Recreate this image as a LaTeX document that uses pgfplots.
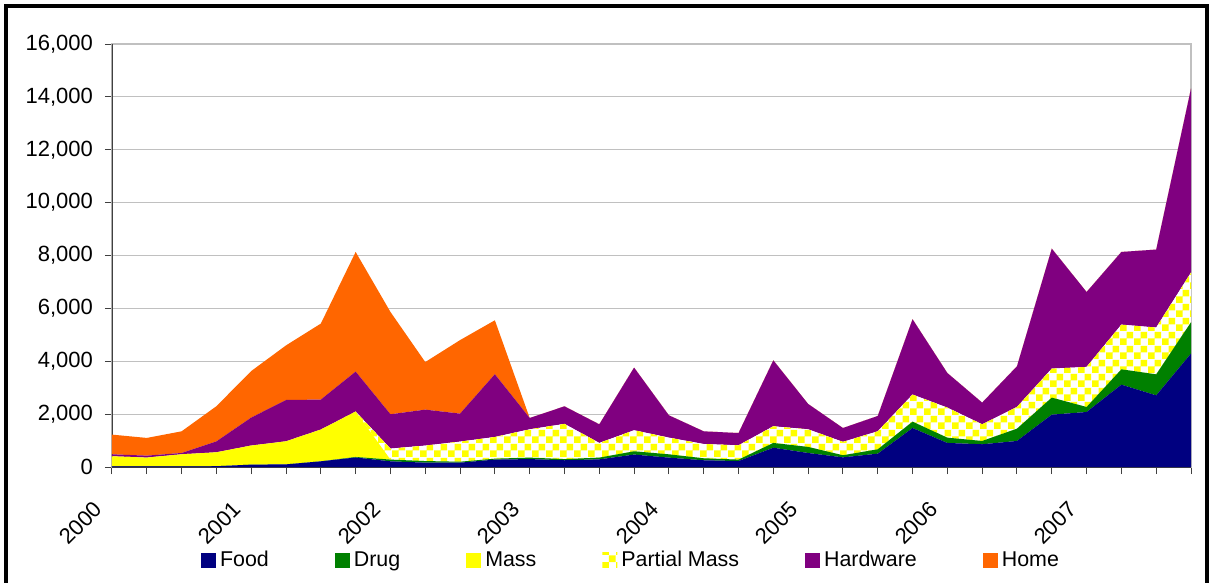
\documentclass[border=0pt]{standalone}
\usepackage{fontspec}
\setmainfont{Liberation Sans}
\usepackage{pgfplots}
\pgfplotsset{compat=1.18}
\usepackage{pgfplotstable}
\usetikzlibrary{patterns}
\pgfdeclarepatternformonly{mychecker}{\pgfpointorigin}{\pgfqpoint{7pt}{7pt}}{\pgfqpoint{7pt}{7pt}}{%
  \pgfpathrectangle{\pgfpointorigin}{\pgfqpoint{3.5pt}{3.5pt}}%
  \pgfpathrectangle{\pgfqpoint{3.5pt}{3.5pt}}{\pgfqpoint{3.5pt}{3.5pt}}%
  \pgfusepath{fill}}
\definecolor{cfood}{HTML}{000080}
\definecolor{cdrug}{HTML}{008000}
\definecolor{cmass}{HTML}{FFFF00}
\definecolor{chw}{HTML}{800080}
\definecolor{chome}{HTML}{FF6600}
\definecolor{cgrid}{HTML}{C0C0C0}
\definecolor{caxis}{HTML}{404040}

\pgfplotstableread{
x food drug mass pmass hw home
0 20 0 385 0 75 745
1 20 0 335 0 75 670
2 20 0 460 0 50 820
3 30 0 525 0 415 1330
4 90 0 720 0 1060 1760
5 100 0 870 0 1565 2065
6 215 0 1200 0 1135 2875
7 360 20 1715 0 1515 4525
8 215 65 0 415 1300 3870
9 165 60 0 585 1360 1800
10 165 35 0 760 1060 2780
11 280 35 0 820 2375 2040
12 300 55 0 1070 430 0
13 255 45 0 1330 665 0
14 290 65 0 555 705 0
15 470 125 0 795 2370 0
16 355 125 0 630 845 0
17 255 75 0 540 480 0
18 225 55 0 540 465 0
19 730 180 0 630 2495 0
20 530 230 0 665 960 0
21 365 80 0 505 525 0
22 505 165 0 680 580 0
23 1475 240 0 1025 2850 0
24 910 200 0 1135 1310 0
25 860 125 0 630 820 0
26 985 465 0 820 1540 0
27 1980 645 0 1095 4540 0
28 2080 190 0 1515 2835 0
29 3115 580 0 1690 2750 0
30 2710 795 0 1770 2950 0
31 4290 1185 0 1880 6960 0
}\data

\begin{document}
\begin{tikzpicture}
\path[use as bounding box] (0,0) rectangle (604.5pt,-291.5pt);
\draw[line width=2pt] (3pt,-291.5pt) -- (3pt,-3pt) -- (603.5pt,-3pt) -- (603.5pt,-291.5pt);
\begin{axis}[
  at={(56pt,-233.5pt)}, anchor=south west,
  scale only axis, width=539.5pt, height=211.5pt,
  xmin=0, xmax=31, ymin=0, ymax=16000,
  stack plots=y,
  axis line style={draw=cgrid, line width=0.6pt},
  xtick pos=bottom, ytick pos=left,
  tick align=outside, major tick length=3.5pt, minor tick length=3.5pt,
  tick style={line width=0.5pt, color=caxis},
  ytick={0,2000,...,16000},
  ymajorgrids, grid style={line width=0.6pt, color=cgrid},
  xtick={0,4,...,28},
  minor xtick={0,1,...,31},
  xticklabels={2000,2001,2002,2003,2004,2005,2006,2007},
  scaled y ticks=false,
  /pgf/number format/1000 sep={,},
  /pgf/number format/assume math mode=true,
  ticklabel style={font=\fontsize{11}{13}\selectfont},
  yticklabel style={xshift=-2.5pt},
  xticklabel style={rotate=45, anchor=east, inner sep=0pt, xshift=-16pt, yshift=-6.3pt},
  legend columns=-1,
  legend image code/.code={\path[#1] (0pt,-3.75pt) rectangle (7.5pt,3.75pt);},
  legend style={draw=none, fill=none, at={(0.0822,-0.2210)}, anchor=west, inner sep=0pt,
    font=\fontsize{10.7}{12}\selectfont,
    /tikz/every even column/.append style={column sep=31pt}},
]
\addplot[fill=cfood, draw=none] table[x=x,y=food]{\data} \closedcycle;
\addplot[fill=cdrug, draw=none] table[x=x,y=drug]{\data} \closedcycle;
\addplot[fill=cmass, draw=none] table[x=x,y=mass]{\data} \closedcycle;
\addplot[fill=white, draw=none, postaction={pattern=mychecker, pattern color=cmass}] table[x=x,y=pmass]{\data} \closedcycle;
\addplot[fill=chw, draw=none] table[x=x,y=hw]{\data} \closedcycle;
\addplot[fill=chome, draw=none] table[x=x,y=home]{\data} \closedcycle;
\legend{Food,Drug,Mass,Partial Mass,Hardware,Home}
\draw[caxis, line width=0.7pt] (rel axis cs:0,1) -- (rel axis cs:0,0) -- (rel axis cs:1,0);
\end{axis}
\end{tikzpicture}
\end{document}
